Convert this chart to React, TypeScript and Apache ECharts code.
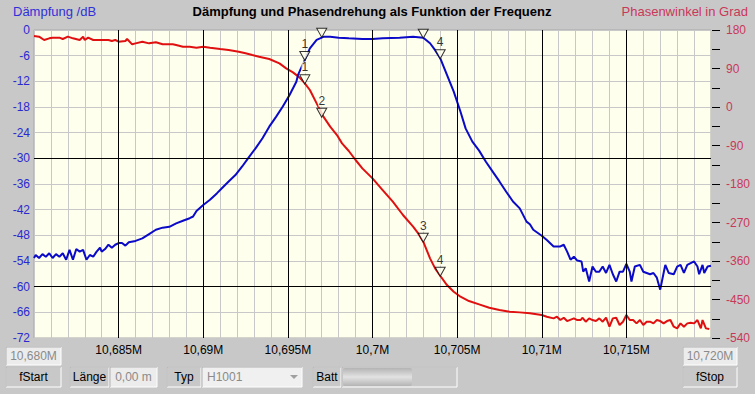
import React, { useEffect, useRef } from "react";
import * as echarts from "echarts";

const FREQ_START_KHZ = 10680;
const FREQ_STOP_KHZ = 10720;

// Attenuation (blue), frequency offset in kHz from 10,680 MHz
const attOffsetKHz = [
  0.0, 0.1, 0.3, 0.5, 0.7, 0.9, 1.1, 1.3, 1.5, 1.7, 1.9, 2.1, 2.3, 2.5, 2.7, 2.9, 3.1, 3.3, 3.5, 3.7,
  3.9, 4.0, 4.2, 4.4, 4.6, 4.8, 5.0, 5.2, 5.4, 5.6, 6.0, 6.4, 6.8, 7.2, 7.6, 8.0, 8.2, 8.4, 8.8, 9.2,
  9.4, 9.6, 10.0, 10.4, 10.8, 11.1, 11.5, 11.9, 12.3, 12.7, 13.1, 13.5, 13.9, 14.3, 14.7, 15.1, 15.5, 15.6, 16.0, 16.3,
  16.7, 17.1, 17.5, 18.0, 18.6, 19.4, 20.0, 20.6, 21.6, 22.4, 23.0, 23.4, 23.7, 24.0, 24.4, 24.8, 25.2, 25.5, 25.9, 26.3,
  26.7, 27.1, 27.5, 27.9, 28.3, 28.7, 29.1, 29.3, 29.5, 30.0, 30.3, 30.7, 31.1, 31.3, 31.5, 31.7, 31.9, 32.1, 32.35, 32.45,
  32.6, 32.8, 33.0, 33.2, 33.4, 33.6, 33.8, 34.0, 34.2, 34.4, 34.6, 34.8, 35.0, 35.2, 35.3, 35.5, 35.8, 36.0, 36.2, 36.4,
  36.6, 36.8, 37.0, 37.2, 37.3, 37.5, 37.8, 38.0, 38.2, 38.4, 38.6, 38.8, 39.0, 39.2, 39.3, 39.5, 39.6, 39.8, 40.0,
];
const attDb = [
  -53.3, -52.6, -53.3, -52.4, -53.0, -52.2, -53.3, -52.4, -53.0, -52.2, -53.7, -51.4, -53.7, -51.2, -51.8, -51.4, -53.7, -52.6, -53.0, -51.8,
  -50.9, -51.8, -51.2, -50.2, -50.9, -50.2, -49.8, -49.8, -50.4, -49.6, -49.3, -48.7, -47.7, -46.7, -46.2, -46.0, -45.6, -45.2, -44.6, -44.0,
  -43.6, -42.3, -40.9, -39.7, -38.2, -37.0, -35.4, -33.9, -31.9, -29.7, -27.6, -25.3, -22.6, -20.3, -17.9, -15.2, -12.1, -10.5, -7.0, -4.3,
  -2.3, -1.6, -1.6, -1.8, -1.95, -2.1, -2.1, -1.95, -1.8, -1.6, -1.8, -3.1, -4.7, -6.6, -10.5, -14.4, -19.1, -23.0, -26.1, -28.2,
  -30.8, -33.1, -35.4, -37.8, -40.1, -41.7, -44.8, -45.4, -46.7, -48.1, -49.1, -50.6, -50.6, -50.2, -51.8, -53.7, -53.0, -53.9, -54.1, -56.5,
  -55.7, -58.8, -55.3, -56.5, -56.5, -55.3, -56.8, -54.9, -57.1, -58.8, -56.5, -56.5, -54.7, -56.5, -58.8, -55.3, -54.9, -56.5, -56.8, -57.1,
  -56.8, -57.9, -60.7, -56.8, -54.9, -56.8, -57.1, -55.3, -54.9, -56.8, -54.9, -54.5, -54.1, -55.3, -57.1, -54.9, -56.8, -55.3, -55.1,
];

// Phase (red), frequency offset in kHz from 10,680 MHz
const phaseOffsetKHz = [
  0.0, 0.3, 0.6, 0.9, 1.1, 1.5, 1.7, 2.0, 2.3, 2.7, 2.9, 3.0, 3.2, 3.5, 3.7, 4.4, 4.6, 4.8, 5.0, 5.4,
  5.5, 5.8, 6.0, 6.4, 6.8, 7.2, 7.6, 8.2, 8.4, 8.8, 9.2, 9.6, 10.0, 10.4, 11.0, 11.5, 12.1, 12.5, 12.9, 13.3,
  13.9, 14.5, 14.9, 15.3, 15.7, 16.0, 16.3, 16.7, 17.1, 17.5, 17.9, 18.2, 18.6, 19.0, 19.4, 20.0, 20.6, 21.2, 21.8, 22.4,
  22.7, 23.0, 23.4, 23.7, 24.0, 24.4, 24.8, 25.2, 25.7, 26.3, 26.9, 27.5, 28.1, 28.7, 29.3, 30.0, 30.3, 30.7, 30.9, 31.1,
  31.3, 31.5, 31.9, 32.1, 32.3, 32.4, 32.6, 32.8, 33.0, 33.2, 33.4, 33.6, 33.8, 34.0, 34.2, 34.4, 34.6, 34.8, 35.0, 35.2,
  35.4, 35.6, 35.8, 36.0, 36.2, 36.4, 36.6, 36.8, 37.0, 37.2, 37.4, 37.6, 37.8, 38.0, 38.2, 38.4, 38.6, 38.8, 39.0, 39.2,
  39.4, 39.5, 39.7, 39.9,
];
const phaseDeg = [
  166.0, 164.4, 156.6, 160.5, 162.1, 162.1, 159.0, 164.4, 160.5, 156.6, 164.4, 156.6, 162.1, 156.6, 156.6, 156.6, 154.3, 156.6, 152.7, 154.3,
  159.0, 146.5, 148.8, 152.7, 148.8, 151.2, 146.5, 146.5, 144.9, 141.0, 141.0, 138.7, 141.0, 138.7, 135.6, 133.2, 129.3, 125.5, 121.5, 117.6,
  112.2, 102.1, 90.4, 81.0, 68.6, 55.3, 39.7, 8.5, -22.6, -46.0, -65.5, -85.0, -102.9, -123.9, -143.4, -166.8, -194.1, -221.4, -252.5, -279.8,
  -295.4, -314.9, -353.8, -377.2, -394.4, -416.2, -431.8, -443.5, -453.6, -461.4, -469.2, -474.6, -478.5, -480.1, -482.4, -486.3, -490.2, -494.1, -490.2, -498.0,
  -492.6, -500.4, -494.1, -498.0, -498.0, -492.6, -501.9, -494.1, -498.0, -500.4, -494.1, -501.9, -492.6, -513.6, -494.1, -492.6, -509.7, -501.9, -486.3, -498.0,
  -498.0, -505.8, -498.0, -509.7, -501.9, -501.9, -505.8, -498.0, -500.4, -505.8, -500.4, -498.0, -513.6, -517.5, -505.8, -513.6, -505.8, -504.3, -505.8, -498.0,
  -517.5, -498.0, -517.5, -519.1,
];

// Markers
const markerOffsetKHz = [16.0, 17.0, 23.0, 24.0];
const markerDb = [-7.0, -1.6, -1.8, -6.6];
const markerDeg = [55.3, -22.6, -314.9, -394.4];
const markerLabelsAtt = ["1", "", "", "4"];
const markerLabelsPhase = ["1", "2", "3", "4"];

const dbMajorLines = [-30, -60];
const freqMajorKHz = [10685, 10690, 10695, 10700, 10705, 10710, 10715];

const FONT = '"Liberation Sans", Arial, sans-serif';
const BG = "#c8c8c8";
const PLOT_BG = "#ffffee";

function fmtFreq(v: number): string {
  return (v / 1000).toString().replace(".", ",") + "M";
}

function raisedBox(x: number, y: number, w: number, h: number, text: string, fill: string, textColor: string, align: string = "center") {
  return {
    type: "group",
    children: [
      { type: "rect", shape: { x, y, width: w, height: h }, style: { fill, stroke: "#ffffff", lineWidth: 1 } },
      { type: "polyline", shape: { points: [[x, y + h], [x, y], [x + w, y]] }, style: { stroke: "#a8a8a8", lineWidth: 1, fill: null } },
      {
        type: "text",
        x: align === "center" ? x + w / 2 : x + 5,
        y: y + h / 2,
        style: {
          text,
          fill: textColor,
          font: `12px ${FONT}`,
          align: align,
          verticalAlign: "middle",
          textAlign: align,
          textVerticalAlign: "middle",
        },
      },
    ],
  };
}

export default function App() {
  const ref = useRef<HTMLDivElement>(null);
  useEffect(() => {
    if (!ref.current) return;
    const chart = echarts.init(ref.current, null, { renderer: "svg" });
    const attData = attOffsetKHz.map((o, i) => [FREQ_START_KHZ + o, attDb[i]]);
    const phaseData = phaseOffsetKHz.map((o, i) => [FREQ_START_KHZ + o, phaseDeg[i]]);
    const markAtt = markerOffsetKHz.map((o, i) => [FREQ_START_KHZ + o, markerDb[i]]);
    const markPhase = markerOffsetKHz.map((o, i) => [FREQ_START_KHZ + o, markerDeg[i]]);

    const markerStyle = {
      type: "scatter",
      symbol: "triangle",
      symbolRotate: 180,
      symbolSize: [10, 9],
      symbolOffset: [0, -4],
      itemStyle: { color: PLOT_BG, borderColor: "#000", borderWidth: 1 },
      z: 5,
      silent: true,
    };

    chart.setOption({
      animation: false,
      backgroundColor: BG,
      textStyle: { fontFamily: FONT },
      grid: {
        left: 34,
        right: 44,
        top: 30,
        bottom: 56,
        show: true,
        backgroundColor: PLOT_BG,
        borderColor: "#a8a8a8",
        borderWidth: 1,
      },
      xAxis: {
        type: "value",
        min: FREQ_START_KHZ,
        max: FREQ_STOP_KHZ,
        interval: 5,
        axisLine: { show: false },
        axisTick: { show: false },
        minorTick: { show: false, splitNumber: 5 },
        splitLine: { show: true, lineStyle: { color: "#c8c8c8", width: 1 } },
        minorSplitLine: { show: true, lineStyle: { color: "#c8c8c8", width: 1 } },
        axisLabel: {
          color: "#000",
          fontSize: 12,
          fontFamily: FONT,
          margin: 6,
          showMinLabel: false,
          showMaxLabel: false,
          formatter: (v: number) => (v === FREQ_START_KHZ || v === FREQ_STOP_KHZ ? "" : fmtFreq(v)),
        },
      },
      yAxis: [
        {
          type: "value",
          position: "left",
          min: -72,
          max: 0,
          interval: 6,
          axisLine: { show: false },
          axisTick: { show: false },
          splitLine: { show: true, lineStyle: { color: "#c8c8c8", width: 1 } },
          axisLabel: { color: "#2a2ad0", fontSize: 12, fontFamily: FONT, margin: 4 },
        },
        {
          type: "value",
          position: "right",
          min: -540,
          max: 180,
          interval: 45,
          offset: 1,
          axisLine: { show: false },
          axisTick: { show: true, length: 8, lineStyle: { color: "#000", width: 1 } },
          splitLine: { show: false },
          axisLabel: {
            color: "#c8385a",
            fontSize: 12,
            fontFamily: FONT,
            margin: 14,
            formatter: (v: number) => (v % 90 === 0 ? String(v) : ""),
          },
        },
      ],
      series: [
        {
          type: "line",
          data: [],
          z: 1,
          silent: true,
          markLine: {
            silent: true,
            symbol: ["none", "none"],
            label: { show: false },
            lineStyle: { color: "#000", width: 1, type: "solid" },
            emphasis: { disabled: true },
            data: [
              ...dbMajorLines.map((v) => ({ yAxis: v })),
              ...freqMajorKHz.map((v) => ({ xAxis: v })),
            ],
          },
        },
        {
          name: "Phase",
          type: "line",
          yAxisIndex: 1,
          data: phaseData,
          showSymbol: false,
          lineStyle: { color: "#e01010", width: 2 },
          itemStyle: { color: "#e01010" },
          z: 3,
        },
        {
          name: "Dämpfung",
          type: "line",
          yAxisIndex: 0,
          data: attData,
          showSymbol: false,
          lineStyle: { color: "#0a0ac8", width: 2 },
          itemStyle: { color: "#0a0ac8" },
          z: 3,
        },
        {
          ...markerStyle,
          yAxisIndex: 0,
          data: markAtt,
          label: {
            show: true,
            position: "top",
            distance: 1,
            color: "#000",
            textBorderWidth: 0,
            fontSize: 12,
            fontFamily: FONT,
            formatter: (p: any) => markerLabelsAtt[p.dataIndex],
          },
        },
        {
          ...markerStyle,
          yAxisIndex: 1,
          data: markPhase,
          label: {
            show: true,
            position: "top",
            distance: 1,
            color: "#000",
            textBorderWidth: 0,
            fontSize: 12,
            fontFamily: FONT,
            backgroundColor: PLOT_BG,
            formatter: (p: any) => markerLabelsPhase[p.dataIndex],
          },
        },
      ],
      graphic: [
        {
          type: "text",
          x: 13,
          y: 11,
          style: { text: "Dämpfung /dB", fill: "#3030d8", font: `13px ${FONT}`, align: "left", verticalAlign: "middle", textAlign: "left", textVerticalAlign: "middle" },
        },
        {
          type: "text",
          x: 372,
          y: 11,
          style: {
            text: "Dämpfung und Phasendrehung als Funktion der Frequenz",
            fill: "#000",
            font: `bold 13px ${FONT}`,
            align: "center",
            verticalAlign: "middle",
            textAlign: "center",
            textVerticalAlign: "middle",
          },
        },
        {
          type: "text",
          x: 748,
          y: 11,
          style: { text: "Phasenwinkel in Grad", fill: "#c8385a", font: `13px ${FONT}`, align: "right", verticalAlign: "middle", textAlign: "right", textVerticalAlign: "middle" },
        },
        raisedBox(6, 347, 55, 18, "10,680M", "#ececec", "#8a8a8a"),
        raisedBox(6, 367, 55, 20, "fStart", BG, "#000"),
        raisedBox(70, 367, 39, 20, "Länge", BG, "#000"),
        raisedBox(110, 367, 47, 20, "0,00 m", "#ececec", "#8a8a8a"),
        raisedBox(167, 367, 34, 20, "Typ", BG, "#000"),
        raisedBox(202, 367, 100, 20, "H1001", "#f0f0f0", "#8a8a8a", "left"),
        {
          type: "polygon",
          shape: { points: [[290, 375], [298, 375], [294, 379]] },
          style: { fill: "#a0a0a0" },
        },
        raisedBox(313, 367, 28, 20, "Batt", BG, "#000"),
        raisedBox(342, 367, 115, 20, "", BG, "#000"),
        {
          type: "rect",
          shape: { x: 343, y: 368, width: 69, height: 18, r: 2 },
          style: {
            fill: new echarts.graphic.LinearGradient(0, 0, 0, 1, [
              { offset: 0, color: "#b4b4b4" },
              { offset: 0.5, color: "#e2e2e2" },
              { offset: 1, color: "#b4b4b4" },
            ]),
          },
        },
        raisedBox(683, 347, 54, 18, "10,720M", "#ececec", "#8a8a8a"),
        raisedBox(683, 367, 54, 20, "fStop", BG, "#000"),
      ],
    });
    return () => chart.dispose();
  }, []);
  return <div ref={ref} style={{ position: "fixed", left: 0, top: 0, width: 755, height: 394 }} />;
}
